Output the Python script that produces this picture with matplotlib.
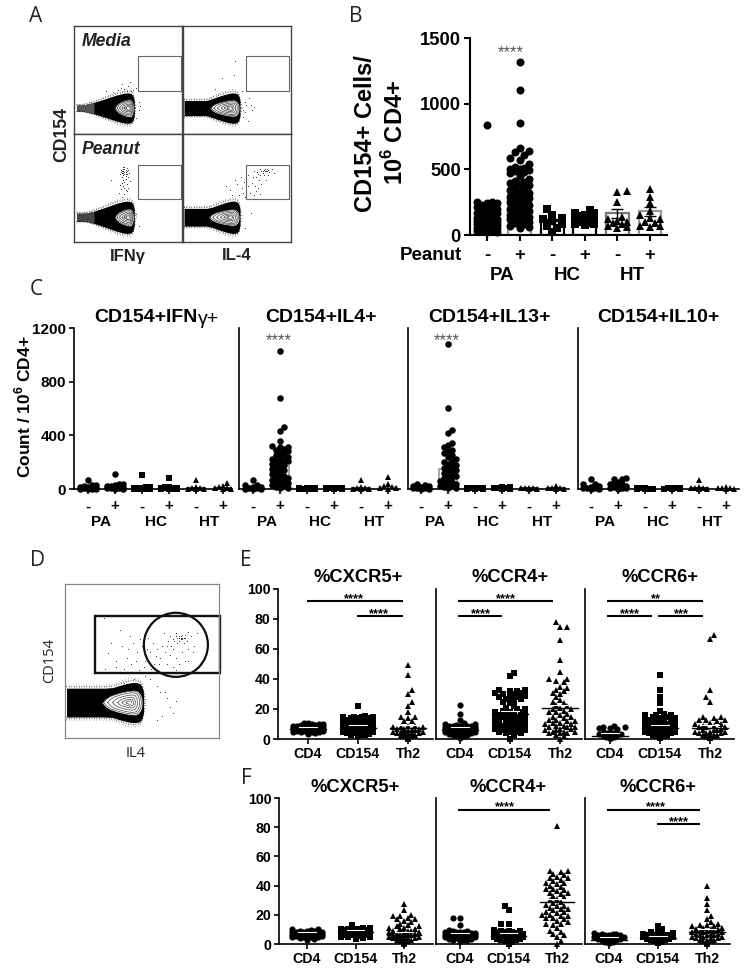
import matplotlib
matplotlib.use('Agg')
import matplotlib.pyplot as plt
from matplotlib.patches import Circle, Rectangle

plt.rcParams['font.family'] = ['Liberation Sans', 'DejaVu Sans']
plt.rcParams['font.weight'] = 'bold'
plt.rcParams['mathtext.fontset'] = 'custom'
plt.rcParams['mathtext.bf'] = 'Liberation Sans:bold'
plt.rcParams['mathtext.rm'] = 'Liberation Sans:bold'

W, H = 751, 972

# flow plots: the blob outline along its length, and the sparse dots (panel units 0-100)
blob_pos = [0, .1, .2, .3, .4, .5, .6, .7, .78, .85, .9, .95, .98, 1]
blob_half = [.12, .2, .28, .38, .5, .62, .75, .87, .95, 1, 1, .95, .8, .5]
inner_pos = [0, .08, .2, .35, .5, .65, .8, .9, .97, 1]
inner_half = [0, .3, .55, .72, .85, .95, 1, .92, .6, .2]

dots_media_ifn = [(45, 46), (50, 44), (52, 48), (47, 42), (41, 41), (55, 41), (58, 43), (36, 39), (60, 30), (58, 15),
                  (49, 40), (53, 40), (44, 43), (60, 22), (61, 26), (30, 40)]
dots_media_il4 = [(48, 68), (36, 52), (55, 40), (58, 30), (63, 27), (60, 12), (30, 42), (47, 55), (56, 22), (66, 25),
                  (58, 20), (59, 27), (61, 33), (64, 22), (56, 16)]
dots_peanut_ifn = [(45, 64), (46, 66), (47, 68), (48, 65), (49, 63), (46, 62), (50, 67), (44, 67), (47, 70), (48, 61),
                   (49, 69), (45, 60), (46, 70), (51, 64), (43, 63), (47, 56), (46, 52), (48, 48), (44, 49), (49, 54),
                   (50, 50), (47, 45), (42, 46), (35, 58), (52, 57), (45, 42), (60, 15), (58, 26), (46, 64), (47, 65),
                   (48, 67), (47, 63), (46, 68), (45, 66), (48, 63), (49, 66), (44, 65), (46, 58), (48, 59), (45, 55),
                   (47, 50), (49, 47), (43, 53), (50, 60)]
dots_peanut_il4 = [(66, 66), (70, 63), (72, 68), (74, 64), (76, 66), (78, 68), (80, 65), (68, 60), (71, 58), (75, 62),
                   (79, 62), (83, 68), (64, 55), (67, 52), (70, 50), (73, 54), (62, 46), (55, 50), (48, 58), (44, 48),
                   (52, 44), (58, 42), (66, 44), (40, 52), (72, 45), (77, 58), (85, 64), (60, 62), (63, 27), (58, 13),
                   (75, 67), (76, 68), (77, 66), (78, 66), (74, 66), (73, 66), (79, 67), (69, 65), (72, 62), (65, 60),
                   (57, 56), (54, 60), (50, 54), (46, 44), (56, 46), (61, 40), (60, 52), (68, 47)]
dots_gate_d = [(36, 70), (40, 52), (44, 62), (47, 56), (50, 60), (52, 50), (54, 65), (55, 56), (58, 48), (60, 58),
               (48, 44), (38, 45), (42, 66), (56, 45), (66, 60), (68, 66), (70, 64), (72, 68), (73, 62), (74, 66),
               (75, 64), (76, 67), (77, 62), (78, 65), (79, 63), (80, 69), (82, 66), (70, 58), (68, 54), (72, 52),
               (76, 56), (80, 58), (84, 60), (66, 48), (70, 46), (74, 48), (78, 50), (64, 68), (86, 68), (62, 52),
               (76, 65), (75, 66), (77, 65), (74, 63), (78, 67), (25, 78), (55, 38), (65, 30), (60, 34), (60, 12),
               (74, 65), (75, 65), (76, 64), (73, 65), (72, 66), (71, 63), (69, 60), (67, 63), (65, 56), (63, 60),
               (61, 48), (59, 53), (57, 62), (53, 58), (51, 46), (49, 64), (46, 50), (43, 48), (41, 58), (37, 60),
               (33, 50), (30, 62), (28, 55), (26, 45), (33, 46), (83, 56), (80, 50), (72, 44), (68, 42), (60, 44),
               (52, 40), (45, 38), (38, 36), (47, 36), (68, 20), (72, 24), (70, 16), (66, 26), (62, 30), (63, 14)]

# panel B
b_ticks = [0, 500, 1000, 1500]
b_labels = ['-', '+', '-', '+', '-', '+']
b_groups = ['PA', 'HC', 'HT']
b_means = [125, 340, 105, 135, 165, 180]
b_sem = [15, 30, 20, 15, 35, 35]
b_pa_minus = [840, 255, 250, 245, 240, 230, 220, 210, 200, 195, 190, 180, 170, 165, 160, 150, 140, 130, 125, 120,
              115, 110, 105, 100, 95, 90, 85, 80, 75, 70, 65, 60, 55, 50, 45, 40, 35, 30, 25, 20]
b_pa_plus = [1320, 1105, 855, 660, 640, 630, 610, 590, 570, 540, 520, 510, 505, 500, 495, 490, 480, 470, 450, 430,
             410, 400, 395, 390, 380, 360, 350, 340, 330, 320, 310, 300, 290, 285, 280, 270, 260, 250, 240, 230,
             220, 210, 200, 190, 180, 170, 160, 150, 145, 140, 135, 130, 120, 110, 100, 90, 80, 70, 60, 50]
b_hc_minus = [195, 155, 130, 120, 105, 80, 65, 55, 20]
b_hc_plus = [190, 170, 165, 150, 145, 135, 130, 120, 110, 100, 95, 85, 80, 75]
b_ht_minus = [335, 325, 255, 140, 120, 110, 100, 90, 80, 70, 60, 55]
b_ht_plus = [350, 290, 240, 180, 150, 130, 120, 100, 90, 70, 65, 60]

# panel C
c_ticks = [0, 400, 800, 1200]
c_titles = ['CD154+IFN', 'CD154+IL4+', 'CD154+IL13+', 'CD154+IL10+']
c_means = [[15, 20, 12, 12, 8, 8], [14, 170, 4, 4, 10, 15], [10, 150, 4, 5, 4, 5], [15, 20, 3, 4, 10, 3]]
c_ifn = [[70, 30, 28, 20, 15, 12, 10, 8, 5, 5, 3, 3, 2, 2], [115, 40, 35, 30, 25, 20, 15, 12, 10, 8, 5, 5, 3, 3],
         [105, 15, 12, 10, 8, 6, 5, 4, 3, 3, 2, 2, 1, 1], [80, 15, 12, 10, 8, 6, 5, 4, 3, 2, 1, 1],
         [65, 15, 8, 5, 3, 2, 1], [45, 25, 15, 8, 5, 2, 1]]
c_il4 = [[70, 30, 28, 18, 12, 8, 5, 3, 2, 1],
         [1030, 680, 460, 435, 360, 320, 315, 310, 300, 290, 280, 270, 260, 250, 240, 230, 220, 215, 210, 205, 200, 190,
          180, 170, 160, 150, 140, 130, 120, 110, 100, 90, 85, 80, 70, 60, 50, 45, 40, 30, 20, 15, 10, 5],
         [8, 6, 5, 4, 3, 3, 2, 2, 1, 1], [10, 8, 6, 5, 4, 3, 2, 1], [65, 15, 8, 5, 3, 2, 1], [90, 40, 25, 15, 8, 4, 2]]
c_il13 = [[35, 30, 25, 20, 15, 10, 8, 5, 3, 2],
          [1080, 600, 440, 420, 340, 330, 310, 290, 280, 270, 250, 240, 220, 210, 200, 190, 180, 170, 160, 150, 140, 130,
           120, 110, 100, 90, 80, 70, 60, 50, 45, 40, 30, 25, 20, 15, 10, 5],
          [10, 8, 6, 5, 4, 3, 2, 1], [15, 12, 8, 6, 4, 2, 1], [10, 8, 5, 4, 3, 1], [20, 10, 8, 5, 3, 1]]
c_il10 = [[75, 40, 35, 20, 15, 10, 8, 5, 3, 2], [80, 78, 75, 50, 45, 40, 35, 25, 20, 15, 10, 8, 5, 3],
          [6, 5, 4, 3, 2, 2, 1], [8, 6, 5, 4, 3, 2, 1], [70, 15, 10, 6, 4, 2, 1], [12, 8, 6, 4, 2, 1]]

# panels E and F
pct_ticks = [0, 20, 40, 60, 80, 100]
cell_types = ['CD4', 'CD154', 'Th2']
marker_titles = ['%CXCR5+', '%CCR4+', '%CCR6+']
e_means = [[6.5, 7.5, 7.5], [6, 17, 21], [2, 7.5, 7.5]]
f_means = [[6.5, 8, 6.5], [6, 5.5, 29], [3, 4, 8.5]]
e_cxcr5_cd4 = [11, 10.5, 10, 10, 9.8, 9.5, 9.5, 9, 9, 9, 8.8, 8.5, 8.5, 8, 8, 8, 8, 7.5, 7.5, 7.5, 7.5, 7, 7, 7, 7, 7,
               6.5, 6.5, 6.5, 6.5, 6, 6, 6, 6, 5.5, 5.5, 5.5, 5, 5, 4.5, 4.5, 4, 3.5]
e_cxcr5_cd154 = [22, 15.5, 15, 15, 15, 14.5, 14, 14, 14, 13, 13, 13, 12, 12, 12, 11, 11, 11, 10, 10, 10, 10, 9, 9, 9, 9,
                 8.5, 8, 8, 8, 8, 7.5, 7, 7, 7, 7, 6.5, 6, 6, 6, 6, 5.5, 5, 5, 5, 5, 4.5, 4, 4, 4, 3.5, 3, 3, 2.5, 2]
e_cxcr5_th2 = [49.5, 43, 33, 30, 25, 22, 18, 15, 15, 14, 12, 12, 9, 9, 8, 8, 8, 7, 7, 7, 6, 6, 6, 5, 5, 5, 5, 4, 4, 4, 4,
               3, 3, 3, 3, 2, 2, 2, 2, 1, 1, 1, 1, 0.5, 0.5, 0]
e_ccr4_cd4 = [23, 17, 12.5, 10.5, 10, 10, 9.5, 9, 9, 9, 9, 8.5, 8.5, 8, 8, 8, 8, 7.5, 7.5, 7, 7, 7, 7, 6.5, 6.5, 6.5, 6, 6,
              6, 6, 5.5, 5.5, 5.5, 5, 5, 5, 4.5, 4.5, 4, 4, 3.5, 3, 3, 2.5, 2, 1]
e_ccr4_cd154 = [44, 42, 33, 33, 32, 32, 31, 31, 30, 30, 29, 28, 28, 28, 27, 27, 26, 25, 24, 22, 21, 20, 20, 19, 18, 18, 18,
                17, 17, 16, 16, 15, 15, 14, 14, 14, 13, 13, 12, 12, 12, 11, 11, 10, 10, 10, 9, 9, 9, 8, 8, 8, 7, 7, 6, 6,
                6, 5, 5, 5, 4, 4, 3, 0]
e_ccr4_th2 = [78, 75, 75, 66, 53, 45, 40, 40, 39, 38, 35, 34, 33, 32, 31, 30, 28, 26, 25, 24, 23, 22, 21, 20, 20, 19, 18,
              18, 17, 16, 15, 15, 14, 13, 13, 12, 12, 11, 11, 10, 10, 9, 9, 8, 8, 8, 7, 7, 6, 6, 5, 5, 5, 4, 4, 4, 3, 2, 0]
e_ccr6_cd4 = [8.5, 8, 8, 7.5, 7.5, 7, 4.5, 4, 4, 4, 3.5, 3.5, 3.5, 3, 3, 3, 3, 2.5, 2.5, 2.5, 2, 2, 2, 2, 2, 1.5, 1.5, 1.5,
              1.5, 1, 1, 1, 1, 1, 0.5, 0.5, 0.5, 0.5]
e_ccr6_cd154 = [42.5, 33, 28, 24, 19, 17, 16, 16, 16, 15, 15, 14, 14, 13, 13, 13, 12, 12, 12, 11, 11, 10, 10, 10, 9, 9, 9,
                8, 8, 8, 7, 7, 7, 6, 6, 6, 6, 5, 5, 5, 5, 4, 4, 4, 4, 3, 3, 3, 3, 2, 2, 2, 1, 1, 0.5]
e_ccr6_th2 = [69.5, 66.5, 33, 28, 25, 15, 15, 14, 13, 13, 13, 12, 11, 10, 10, 9, 9, 8, 8, 8, 7, 6, 6, 6, 5, 5, 5, 4, 4, 4,
              3, 3, 3, 3, 2, 2, 2, 2, 2, 1, 1, 1, 1, 1, 0.5, 0.5]
f_cxcr5_cd4 = [10.5, 10, 9.5, 9, 9, 9, 8.5, 8.5, 8.5, 8, 8, 8, 8, 7.5, 7.5, 7.5, 7, 7, 7, 7, 6.5, 6.5, 6.5, 6, 6, 6, 6,
               5.5, 5.5, 5, 5, 4.5, 4.5, 4, 3.5, 3]
f_cxcr5_cd154 = [13, 11, 11, 10.5, 10, 10, 10, 9.5, 9.5, 9.5, 9, 9, 9, 9, 8.5, 8.5, 8.5, 8, 8, 8, 8, 7.5, 7.5, 7.5, 7, 7,
                 7, 6.5, 6.5, 6, 6, 5.5, 5, 5, 4.5, 4, 3.5]
f_cxcr5_th2 = [27.5, 23, 20, 19, 19, 18, 17, 17, 16, 15, 14, 13, 12, 12, 11, 11, 10, 10, 9, 9, 9, 8, 8, 8, 7, 7, 7, 6, 6,
               6, 6, 5, 5, 5, 5, 4, 4, 4, 4, 3, 3, 3, 3, 2, 2, 2, 1, 1, 0.5, 0]
f_ccr4_cd4 = [17.5, 17.5, 13, 9.5, 9, 9, 8.5, 8, 8, 8, 7.5, 7.5, 7, 7, 7, 7, 6.5, 6.5, 6.5, 6, 6, 6, 6, 5.5, 5.5, 5.5, 5.5,
              5, 5, 5, 5, 4.5, 4.5, 4.5, 4, 4, 4, 3.5, 3.5, 3, 3, 2.5, 2]
f_ccr4_cd154 = [26, 23, 14, 14, 9.5, 9, 9, 9, 8.5, 8, 8, 7.5, 7, 7, 7, 6.5, 6.5, 6, 6, 6, 5.5, 5.5, 5, 5, 5, 5, 4.5, 4.5,
                4.5, 4, 4, 4, 3.5, 3.5, 3, 3, 3, 2.5, 2.5, 2, 2, 1.5, 1, 0.5, 0]
f_ccr4_th2 = [80.5, 50, 50, 49, 48, 47, 46, 45, 45, 44, 43, 42, 42, 41, 40, 39, 38, 38, 37, 36, 35, 35, 34, 33, 32, 31, 30,
              29, 28, 27, 26, 26, 25, 24, 24, 23, 22, 22, 21, 20, 20, 19, 19, 18, 18, 17, 16, 15, 14, 14, 13, 11, 9, 8, 7,
              6, 5, 2, 0]
f_ccr6_cd4 = [7.5, 7, 7, 7, 6.5, 6.5, 6, 6, 5, 5, 4.5, 4.5, 4, 4, 4, 3.5, 3.5, 3.5, 3, 3, 3, 3, 2.5, 2.5, 2.5, 2, 2, 2, 2,
              1.5, 1.5, 1, 1]
f_ccr6_cd154 = [12, 10, 8.5, 8, 7.5, 7, 6.5, 6, 6, 6, 6, 5.5, 5.5, 5, 5, 5, 4.5, 4.5, 4.5, 4, 4, 4, 3.5, 3.5, 3, 3, 3, 2.5,
                2.5, 2, 2, 2, 1.5, 1, 1, 0.5]
f_ccr6_th2 = [40, 31.5, 27.5, 23, 19, 17, 15, 14, 13, 13, 12, 12, 11, 11, 10, 10, 10, 9, 9, 9, 8, 8, 8, 7, 7, 7, 6, 6, 6,
              5, 5, 5, 4, 4, 4, 3, 3, 3, 2, 2, 2, 1, 1, 1, 0.5, 0]

fig = plt.figure(figsize=(W / 100, H / 100), dpi=100, facecolor='white')


def px_axes(left, right, top, bottom):
    return fig.add_axes([left / W, 1 - bottom / H, (right - left) / W, (bottom - top) / H])


def label(x, y, s, **kw):
    kw.setdefault('ha', 'center')
    kw.setdefault('va', 'center')
    fig.text(x / W, 1 - y / H, s, **kw)


def swarm(vals, ppu, d, tight, maxw, taper):
    # beeswarm offsets in pixels, capped in width like the Prism plots
    placed = []
    gap = d * 0.6
    for n, v in enumerate(sorted(vals)):
        y = v * ppu
        cap = maxw if taper is None else max(1, min(maxw, y * taper))
        sign = 1 if n % 2 else -1
        cands = [0.0]
        k = 1
        while k * gap <= cap:
            cands += [sign * k * gap, -sign * k * gap]
            k += 1
        best, best_dist = cands[0], -1
        for c in cands:
            dist = min([((c - a) ** 2 + (y - b) ** 2) ** 0.5 for a, b in placed] or [1e9])
            if dist >= d * tight:
                best = c
                break
            if dist > best_dist:
                best, best_dist = c, dist
        placed.append((best, y))
    return [p[0] for p in placed], [p[1] / ppu for p in placed]


def setup(left, right, top, bottom, centers, ymax, lw, ticklen, fs, yticks=None, xlabels=None, pad=2):
    ax = px_axes(left, right, top, bottom)
    step = centers[1] - centers[0]
    ax.set_xlim((left - centers[0]) / step, (right - centers[0]) / step)
    ax.set_ylim(0, ymax)
    ax.patch.set_alpha(0)
    for s in ['top', 'right']:
        ax.spines[s].set_visible(False)
    for s in ['left', 'bottom']:
        ax.spines[s].set_linewidth(lw)
    ax.set_xticks(range(len(centers)))
    ax.set_xticklabels(xlabels if xlabels else [''] * len(centers), fontsize=fs, fontweight='bold')
    if yticks:
        ax.set_yticks(yticks)
        ax.set_yticklabels([str(t) for t in yticks], fontsize=fs, fontweight='bold')
    else:
        ax.set_yticks([])
    ax.tick_params(axis='y', length=ticklen, width=lw, pad=2)
    ax.tick_params(axis='x', length=ticklen, width=lw, pad=pad)
    return ax, step, (bottom - top) / ymax


def draw_swarm(ax, i, vals, marker, d, step, ppu, tight, maxw, taper=None):
    xo, ys = swarm(vals, ppu, d, tight, maxw, taper)
    ax.plot([i + x / step for x in xo], ys, linestyle='none', marker=marker, color='black',
            markersize=d * 0.72, markeredgewidth=0, clip_on=False, zorder=3)


def flow(ax, left, right, cy, hh, inner_left, inner_hh, tail=0.12, tail_color='black', frame='#444444', fw=1.0):
    ax.set_xlim(0, 100)
    ax.set_ylim(0, 100)
    ax.set_xticks([])
    ax.set_yticks([])
    for s in ax.spines.values():
        s.set_color(frame)
        s.set_linewidth(fw)
    xs = [left + p * (right - left) for p in blob_pos]
    halves = [max(h, tail) * hh if p < 0.9 else h * hh for p, h in zip(blob_pos, blob_half)]
    up = [cy + h for h in halves]
    lo = [cy - h for h in halves]
    ax.fill_between(xs, lo, up, color='black', lw=0)
    # speckled edge of the density plot
    for sc, lw_, pat, col in [(1.1, 1.0, (0.4, 1.4), 'black'), (1.22, 0.7, (0.4, 3.0), '#333333')]:
        sx = xs + [right + (sc - 1) * hh * 0.7]
        ax.plot(sx, [cy + h * sc for h in halves] + [cy], color=col, lw=lw_, ls=(0, pat))
        ax.plot(sx, [cy - h * sc for h in halves] + [cy], color=col, lw=lw_, ls=(0, pat))
    if tail_color != 'black':
        n = 4
        ax.fill_between(xs[:n], lo[:n], up[:n], color=tail_color, lw=0)
    ix = [inner_left + p * (right - 1 - inner_left) for p in inner_pos]
    ax.fill_between(ix, [cy - h * inner_hh for h in inner_half], [cy + h * inner_hh for h in inner_half],
                    color='white', lw=0)
    hx = inner_left + 0.7 * (right - 1 - inner_left)
    for sc in [0.94, 0.8, 0.62, 0.44, 0.28, 0.14]:
        xx = [hx + (x - hx) * sc for x in ix]
        ax.plot(xx + xx[::-1], [cy + h * inner_hh * sc for h in inner_half] + [cy - h * inner_hh * sc for h in inner_half][::-1],
                color='#444444', lw=0.5)
    ax.plot([hx], [cy], marker='o', ms=1.6, color='white', mew=0)


def dots(ax, pts, c='#333333'):
    ax.scatter([p[0] for p in pts], [p[1] for p in pts], s=0.5, color=c, lw=0)


# ---------- panel letters
for x, y, s in [(36, 17, 'A'), (356, 17, 'B'), (36, 289, 'C'), (37, 560, 'D'), (246, 560, 'E'), (246, 778, 'F')]:
    label(x, y, s, family='Open Sans', fontweight='normal', fontsize=15, color='#222222')

# ---------- panel A
a_axes = [px_axes(73.5, 182, 26, 134), px_axes(183, 290.5, 26, 134), px_axes(73.5, 182, 134.5, 242), px_axes(183, 290.5, 134.5, 242)]
flow(a_axes[0], 3, 56, 24, 14, 38, 8, tail=0.2, tail_color='#555555')
flow(a_axes[1], 1, 53, 24, 14, 25, 7.5, tail=0.5)
flow(a_axes[2], 3, 56, 23, 15, 38, 8, tail=0.25, tail_color='#444444')
flow(a_axes[3], 1, 53, 23, 15, 24, 7.5, tail=0.55)
for ax, pts in zip(a_axes, [dots_media_ifn, dots_media_il4, dots_peanut_ifn, dots_peanut_il4]):
    dots(ax, pts)
    ax.add_patch(Rectangle((59, 40), 40, 32, fc='none', ec='#666666', lw=0.8))
label(82, 42, 'Media', style='italic', fontsize=12.7, ha='left', color='#222222')
label(82, 150, 'Peanut', style='italic', fontsize=12.7, ha='left', color='#222222')
label(62, 134, 'CD154', rotation=90, fontsize=12.7, color='#222222')
label(128, 256, 'IFNγ', fontsize=12, color='#222222')
label(237, 256, 'IL-4', fontsize=12, color='#222222')

# ---------- panel B
b_centers = [487, 519.6, 552.2, 584.8, 617.4, 650]
ax, step, ppu = setup(470, 667, 38, 235, b_centers, 1500, 1.5, 4.5, 13.3, b_ticks, b_labels, pad=4)
b_edges = ['black', '#999999', 'black', 'black', '#777777', '#999999']
b_series = [b_pa_minus, b_pa_plus, b_hc_minus, b_hc_plus, b_ht_minus, b_ht_plus]
b_markers = ['o', 'o', 's', 's', '^', '^']
ax.bar(range(6), b_means, width=0.7, fc='white', ec=b_edges, lw=1.6, zorder=2)
for i, (vals, m) in enumerate(zip(b_series, b_markers)):
    draw_swarm(ax, i, vals, m, 8, step, ppu, 0.75, 11)
ax.errorbar(range(6), b_means, yerr=b_sem, fmt='none', ecolor='black', elinewidth=1, capsize=4, capthick=1, zorder=4)
ax.text(0.72, 1385, '****', ha='center', va='center', fontsize=12, color='#555555', fontweight='normal')
for g, name in enumerate(b_groups):
    ax.annotate(name, (2 * g + 0.45, 0), xycoords=('data', 'axes fraction'), xytext=(0, -29),
                textcoords='offset points', ha='center', va='center', fontsize=13.5)
label(431, 255, 'Peanut', fontsize=13.5)
label(365, 134, 'CD154+ Cells/', rotation=90, fontsize=17)
label(395, 132, r'10$^{\mathbf{6}}$ CD4+', rotation=90, fontsize=17)

# ---------- panel C
c_lefts = [74, 239, 408, 578]
c_rights = [232, 400, 569, 739]
c_first = [88, 253, 421, 591]
c_panels = [c_ifn, c_il4, c_il13, c_il10]
c_mk = ['o', 'o', 's', 's', '^', '^']
for p in range(4):
    centers = [c_first[p] + 27 * k for k in range(6)]
    ax, step, ppu = setup(c_lefts[p], c_rights[p], 328, 489, centers, 1200, 1.2, 3.5, 11,
                          c_ticks if p == 0 else None, b_labels, pad=4)
    if p > 0:
        ax.tick_params(axis='y', left=False)
    edges = ['#999999' if c_means[p][k] > 12 else 'black' for k in range(6)]
    ax.bar(range(6), c_means[p], width=0.7, fc='white', ec=edges, lw=1.2, zorder=2)
    for i, vals in enumerate(c_panels[p]):
        draw_swarm(ax, i, vals, c_mk[i], 6.5, step, ppu, 0.62, 10)
    for g, name in enumerate(b_groups):
        ax.annotate(name, (2 * g + 0.5, 0), xycoords=('data', 'axes fraction'), xytext=(0, -24),
                    textcoords='offset points', ha='center', va='center', fontsize=11)
    if p in (1, 2):
        ax.text(1 - 0.05, 1105, '****', ha='center', va='center', fontsize=12, color='#555555', fontweight='normal')
label(198, 318, c_titles[0], ha='right', fontsize=14)
label(198, 319, 'γ+', ha='left', fontsize=14, fontweight='normal')
label(321, 318, c_titles[1], fontsize=14)
label(489, 318, c_titles[2], fontsize=14)
label(658, 318, c_titles[3], fontsize=14)
label(23, 407, r'Count / 10$^{\mathbf{6}}$ CD4+', rotation=90, fontsize=12.5)

# ---------- panel D
ax = px_axes(65, 219, 584, 738)
flow(ax, 1, 51, 23, 13, 24, 8, tail=0.72, frame='#888888', fw=0.9)
dots(ax, dots_gate_d, '#333333')
ax.add_patch(Rectangle((19.5, 42.5), 81, 37, fc='none', ec='#111111', lw=1.7, clip_on=False))
ax.add_patch(Circle((72, 60.5), 20.8, fc='none', ec='#111111', lw=1.6, clip_on=False))
label(50, 660, 'CD154', rotation=90, family='Open Sans', fontweight='normal', fontsize=10.5, color='#222222')
label(136, 753, 'IL4', family='Open Sans', fontweight='normal', fontsize=10.5, color='#222222')

# ---------- panels E and F
e_series = [[e_cxcr5_cd4, e_cxcr5_cd154, e_cxcr5_th2], [e_ccr4_cd4, e_ccr4_cd154, e_ccr4_th2], [e_ccr6_cd4, e_ccr6_cd154, e_ccr6_th2]]
f_series = [[f_cxcr5_cd4, f_cxcr5_cd154, f_cxcr5_th2], [f_ccr4_cd4, f_ccr4_cd154, f_ccr4_th2], [f_ccr6_cd4, f_ccr6_cd154, f_ccr6_th2]]
mk3 = ['o', 's', '^']
e_geo = [(278, 433, [308, 358, 408]), (436, 582, [460, 510, 560]), (585, 734, [610, 660, 710])]
f_geo = [(279, 433, [307, 355.5, 404]), (436, 582, [460, 508.5, 557]), (585, 730, [609, 658, 707])]
# (start, end, level, stars, star position) in category units
e_sig = [[(-0.02, 1.9, 92, '****', 0.92), (0.98, 1.9, 82, '****', 1.42)],
         [(-0.04, 1.86, 92, '****', 0.92), (-0.04, 0.84, 82, '****', 0.42)],
         [(-0.06, 1.86, 92, '**', 0.92), (-0.06, 0.84, 82, '****', 0.4), (0.96, 1.86, 82, '***', 1.42)]]
f_sig = [[], [(-0.04, 1.86, 92, '****', 0.93)], [(-0.04, 1.86, 92, '****', 0.96), (0.98, 1.86, 82, '****', 1.02 + 0.4)]]


def pct_row(geo, top, bottom, series, means, sig, label_title_y, title_xs):
    for p in range(3):
        left, right, centers = geo[p]
        ax, step, ppu = setup(left, right, top, bottom, centers, 100, 1.2, 3.5, 10.2,
                              pct_ticks if p == 0 else None, cell_types)
        if p > 0:
            ax.tick_params(axis='y', left=False)
        for i, vals in enumerate(series[p]):
            draw_swarm(ax, i, vals, mk3[i], 6.2, step, ppu, 0.74, 16, 2.2)
            ax.plot([i - 0.36, i + 0.36], [means[p][i]] * 2, color='black', lw=1, zorder=4, clip_on=False)
            ax.plot([i - 0.18, i + 0.18], [means[p][i] + 1.8] * 2, color='white', lw=0.8, zorder=4)
        for x0, x1, lev, stars, sx in sig[p]:
            ax.plot([x0, x1], [lev, lev], color='black', lw=1.5, solid_capstyle='butt', zorder=5)
            ax.text(sx, lev + 1.5, stars, ha='center', va='center', fontsize=9.2, zorder=5)
        label(title_xs[p], label_title_y, marker_titles[p], fontsize=13.2)


pct_row(e_geo, 589, 739, e_series, e_means, e_sig, 577, [358, 510, 660])
pct_row(f_geo, 798, 944, f_series, f_means, f_sig, 787, [355, 508, 658])

fig.savefig('out.png', dpi=100)
